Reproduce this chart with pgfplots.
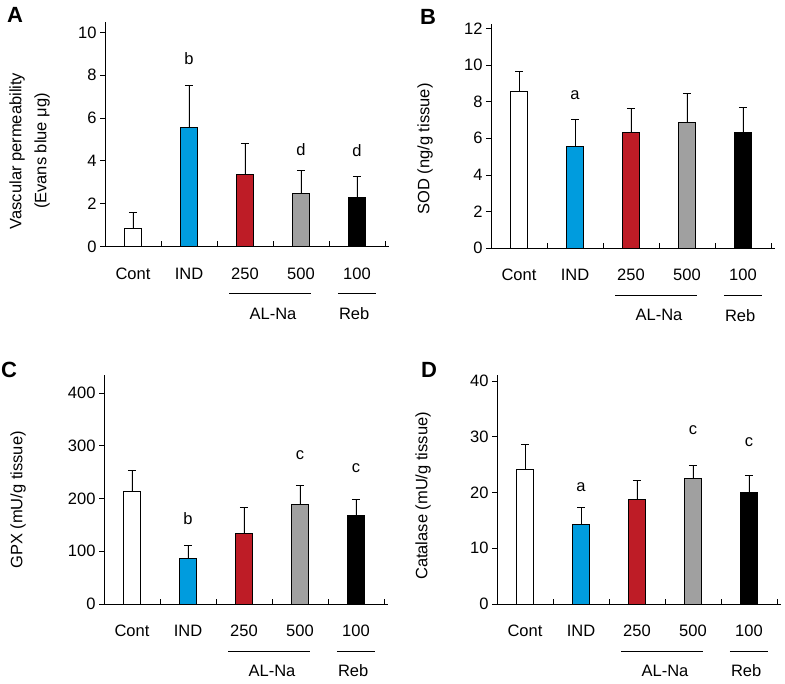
\documentclass[border=0pt]{standalone}
\usepackage{fontspec}
\setmainfont{Liberation Sans}
\usepackage{pgfplots}
\pgfplotsset{compat=1.18}
\definecolor{cblue}{RGB}{0,156,222}
\definecolor{cred}{RGB}{190,28,38}
\definecolor{cgray}{RGB}{160,160,160}
\newcommand{\fs}{\fontsize{16.5}{19.5}\selectfont}
\newcommand{\panelfont}{\fontsize{22}{26}\selectfont\bfseries}
\pgfplotsset{panel/.style={
  scale only axis, width=283.9pt, xmin=0, xmax=5.07, ymin=0,
  axis x line=bottom, axis y line=left,
  axis line style={-, line width=0.8pt},
  every tick/.style={black, line width=0.8pt},
  xtick={1,2,3,4,5}, xticklabels={},
  tick align=outside, major tick length=5pt,
  every major x tick/.append style={yshift=5pt},
  ybar, bar width=16.8pt, bar shift=0pt,
  clip=false,
  tick label style={font=\fs},
  /pgf/number format/assume math mode=true,
  anchor=south west,
  every axis plot/.append style={draw=black, line width=0.8pt},
  error bars/y dir=plus, error bars/y explicit,
  error bars/error bar style={line width=0.8pt, black},
  error bars/error mark options={rotate=90, mark size=4pt, line width=0.8pt, black},
}}
\newcommand{\cats}{%
  \node[font=\fs] at ([yshift=-27pt]axis cs:0.5,0) {Cont};
  \node[font=\fs] at ([yshift=-27pt]axis cs:1.5,0) {IND};
  \node[font=\fs] at ([yshift=-27pt]axis cs:2.5,0) {250};
  \node[font=\fs] at ([yshift=-27pt]axis cs:3.5,0) {500};
  \node[font=\fs] at ([yshift=-27pt]axis cs:4.5,0) {100};
  \draw[line width=0.8pt] ([yshift=-47pt]axis cs:2.22,0) -- ([yshift=-47pt]axis cs:3.68,0);
  \draw[line width=0.8pt] ([yshift=-47pt]axis cs:4.16,0) -- ([yshift=-47pt]axis cs:4.84,0);
  \node[font=\fs] at ([yshift=-67pt]axis cs:3.0,0) {AL-Na};
  \node[font=\fs] at ([yshift=-67pt]axis cs:4.45,0) {Reb};
}
\begin{document}
\begin{tikzpicture}
\path[use as bounding box] (0,0) rectangle (785pt,684pt);
% Panel A
\begin{axis}[panel, at={(105pt,437.5pt)}, height=224.7pt, ymax=10.5, ytick={0,2,4,6,8,10}]
\addplot[fill=white] coordinates {(0.5,0.85) +- (0,0.75)};
\addplot[fill=cblue] coordinates {(1.5,5.58) +- (0,1.97)};
\addplot[fill=cred] coordinates {(2.5,3.39) +- (0,1.44)};
\addplot[fill=cgray] coordinates {(3.5,2.50) +- (0,1.04)};
\addplot[fill=black] coordinates {(4.5,2.31) +- (0,0.95)};
\node[font=\fs] at (axis cs:1.5,8.8) {b};
\node[font=\fs] at (axis cs:3.5,4.55) {d};
\node[font=\fs] at (axis cs:4.5,4.5) {d};
\cats
\end{axis}
% Panel B
\begin{axis}[panel, at={(491pt,435.7pt)}, height=224pt, ymax=12.22, ytick={0,2,4,6,8,10,12}]
\addplot[fill=white] coordinates {(0.5,8.55) +- (0,1.08)};
\addplot[fill=cblue] coordinates {(1.5,5.58) +- (0,1.45)};
\addplot[fill=cred] coordinates {(2.5,6.33) +- (0,1.31)};
\addplot[fill=cgray] coordinates {(3.5,6.87) +- (0,1.59)};
\addplot[fill=black] coordinates {(4.5,6.33) +- (0,1.36)};
\node[font=\fs] at (axis cs:1.5,8.35) {a};
\cats
\end{axis}
% Panel C
\begin{axis}[panel, at={(104pt,80pt)}, height=229pt, ymax=434, ytick={0,100,200,300,400}]
\addplot[fill=white] coordinates {(0.5,213) +- (0,40)};
\addplot[fill=cblue] coordinates {(1.5,86.6) +- (0,24)};
\addplot[fill=cred] coordinates {(2.5,134) +- (0,49)};
\addplot[fill=cgray] coordinates {(3.5,189) +- (0,35)};
\addplot[fill=black] coordinates {(4.5,167) +- (0,31)};
\node[font=\fs] at (axis cs:1.5,161) {b};
\node[font=\fs] at (axis cs:3.5,282) {c};
\node[font=\fs] at (axis cs:4.5,258) {c};
\cats
\end{axis}
% Panel D
\begin{axis}[panel, at={(497pt,80pt)}, height=229pt, ymax=41.08, ytick={0,10,20,30,40}]
\addplot[fill=white] coordinates {(0.5,24.2) +- (0,4.4)};
\addplot[fill=cblue] coordinates {(1.5,14.3) +- (0,3.0)};
\addplot[fill=cred] coordinates {(2.5,18.8) +- (0,3.3)};
\addplot[fill=cgray] coordinates {(3.5,22.5) +- (0,2.3)};
\addplot[fill=black] coordinates {(4.5,20.1) +- (0,2.9)};
\node[font=\fs] at (axis cs:1.5,21) {a};
\node[font=\fs] at (axis cs:3.5,31.2) {c};
\node[font=\fs] at (axis cs:4.5,29) {c};
\cats
\end{axis}
% y labels
\node[rotate=90, font=\fs] at (17pt,533pt) {Vascular permeability};
\node[rotate=90, font=\fs] at (42pt,533pt) {(Evans blue μg)};
\node[rotate=90, font=\fs] at (425pt,535pt) {SOD (ng/g tissue)};
\node[rotate=90, font=\fs] at (18pt,184pt) {GPX (mU/g tissue)};
\node[rotate=90, font=\fs] at (423pt,188pt) {Catalase (mU/g tissue)};
% panel letters
\node[font=\panelfont] at (15pt,669pt) {A};
\node[font=\panelfont] at (428pt,667pt) {B};
\node[font=\panelfont] at (9pt,314pt) {C};
\node[font=\panelfont] at (429pt,314pt) {D};
\end{tikzpicture}
\end{document}
